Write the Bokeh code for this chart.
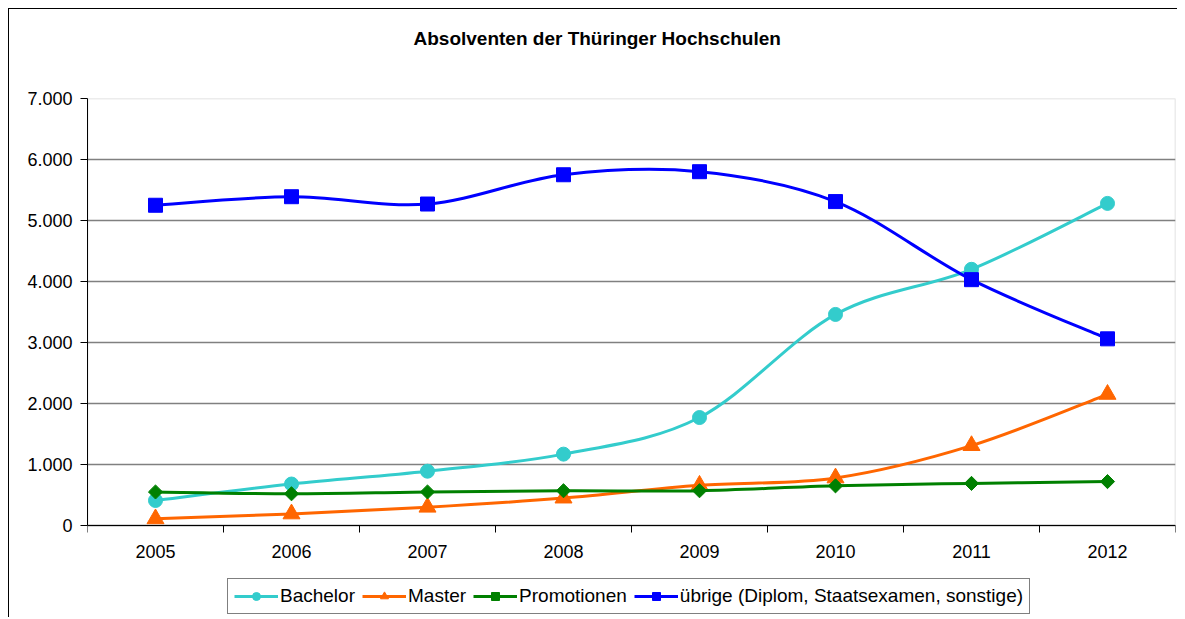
import numpy as np
from bokeh.plotting import figure
from bokeh.models import (Range1d, FixedTicker, Legend, LegendItem, ColumnDataSource, Title,
                          BoxAnnotation)
from bokeh.embed import file_html
from bokeh.resources import INLINE

# ---- data ----
years = ["2005", "2006", "2007", "2008", "2009", "2010", "2011", "2012"]
bachelor = [410, 680, 890, 1170, 1770, 3460, 4200, 5280]
master = [110, 190, 300, 450, 660, 780, 1310, 2150]
promotionen = [550, 520, 550, 570, 570, 650, 690, 720]
uebrige = [5250, 5390, 5270, 5750, 5800, 5310, 4030, 3060]

series_names = ["Bachelor", "Master", "Promotionen", "übrige (Diplom, Staatsexamen, sonstige)"]
series_vals = [bachelor, master, promotionen, uebrige]
colors = ["#33CCCC", "#FF6600", "#008000", "#0000FF"]
markers = ["circle", "triangle", "square", "square"]
msizes = [14, 17, 10, 14]
mangles = [0, 0, np.pi / 4, 0]

y_ticks = [0, 1000, 2000, 3000, 4000, 5000, 6000, 7000]
y_labels = ["0", "1.000", "2.000", "3.000", "4.000", "5.000", "6.000", "7.000"]

FONT = "Liberation Sans"

# plot area: 427 px for 0..7000, plus 90 px below the x axis for the legend
PLOT_H, EXTRA_H = 427, 90
y_top = 7000
y_bottom = -EXTRA_H * y_top / PLOT_H

p = figure(frame_width=1088, frame_height=PLOT_H + EXTRA_H, output_backend="svg",
           toolbar_location=None,
           x_range=Range1d(-0.5, len(years) - 0.5), y_range=Range1d(y_bottom, y_top),
           min_border_left=78, min_border_right=2, min_border_top=89, min_border_bottom=2,
           styles={"margin-left": "8px", "margin-top": "8px",
                   "border-left": "1px solid black", "border-top": "1px solid black"})

# spacer between frame and title (keeps the title high above the plot area)
p.add_layout(Title(text=" ", text_font=FONT, text_font_size="19px", standoff=22), "above")

p.title.text = "Absolventen der Thüringer Hochschulen"
p.title.text_font = FONT
p.title.text_font_size = "19px"
p.title.text_font_style = "bold"
p.title.text_color = "black"
p.title.align = "left"
p.title.offset = 326
p.title.standoff = 10

p.background_fill_color = "white"
p.border_fill_color = "white"
p.outline_line_color = None

# grey border of the value area (0..7000)
p.add_layout(BoxAnnotation(left=-0.5, right=len(years) - 0.5, bottom=0, top=y_top,
                           fill_alpha=0, line_color="#808080", line_width=1.5, level="underlay"))

# axes
xs = list(range(len(years)))
p.xaxis.fixed_location = 0
p.xaxis.ticker = FixedTicker(ticks=xs, minor_ticks=[i - 0.5 for i in range(len(years) + 1)])
p.xaxis.major_label_overrides = {i: y for i, y in enumerate(years)}
p.xaxis.major_tick_out = 0
p.xaxis.major_tick_in = 0
p.xaxis.minor_tick_out = 7
p.xaxis.minor_tick_in = 0
p.xaxis.minor_tick_line_color = "black"
p.xaxis.major_label_standoff = 12

p.yaxis.ticker = FixedTicker(ticks=y_ticks)
p.yaxis.bounds = (0, y_top)
p.yaxis.major_label_overrides = {t: l for t, l in zip(y_ticks, y_labels)}
p.yaxis.minor_tick_line_color = None
p.yaxis.major_tick_out = 7
p.yaxis.major_tick_in = 0
p.yaxis.major_label_standoff = 8

for ax in (p.xaxis, p.yaxis):
    ax.axis_line_color = "black"
    ax.major_label_text_font = FONT
    ax.major_label_text_font_size = "18px"
    ax.major_label_text_color = "black"
p.xaxis.major_tick_line_color = None
p.yaxis.major_tick_line_color = "black"

p.xgrid.grid_line_color = None
p.ygrid.ticker = FixedTicker(ticks=y_ticks)
p.ygrid.grid_line_color = "#808080"
p.ygrid.grid_line_width = 1.5

items = []
for name, vals, col, mk, ms, ang in zip(series_names, series_vals, colors, markers, msizes, mangles):
    v = np.array(vals, dtype=float)
    x = np.array(xs, dtype=float)
    n = len(v)
    # Catmull-Rom style smoothing (as in spreadsheet "smoothed line")
    xp = np.concatenate([[x[0]], x, [x[-1]]])
    yp = np.concatenate([[v[0]], v, [v[-1]]])
    x0, y0 = x[:-1], v[:-1]
    x1, y1 = x[1:], v[1:]
    cx0 = x0 + (xp[2:n + 1] - xp[0:n - 1]) / 6
    cy0 = y0 + (yp[2:n + 1] - yp[0:n - 1]) / 6
    cx1 = x1 - (xp[3:n + 2] - xp[1:n]) / 6
    cy1 = y1 - (yp[3:n + 2] - yp[1:n]) / 6
    src = ColumnDataSource(dict(x0=x0, y0=y0, x1=x1, y1=y1, cx0=cx0, cy0=cy0, cx1=cx1, cy1=cy1))
    p.bezier(x0="x0", y0="y0", x1="x1", y1="y1", cx0="cx0", cy0="cy0", cx1="cx1", cy1="cy1",
             source=src, line_color=col, line_width=3)
    p.scatter(x=x, y=v, marker=mk, size=ms, angle=ang, fill_color=col, line_color=col)
    # legend glyph renderers (first data point only; hidden under the big marker)
    lr = p.line(x=x[:1], y=v[:1], line_color=col, line_width=3)
    sl = p.scatter(x=x[:1], y=v[:1], marker=mk, size=ms * 0.7, angle=ang,
                   fill_color=col, line_color=col)
    items.append(LegendItem(label=name, renderers=[lr, sl]))

legend = Legend(items=items, orientation="horizontal", location=(140, 1),
                label_text_font=FONT, label_text_font_size="19px", label_text_color="black",
                glyph_width=44, glyph_height=20, label_standoff=2, spacing=7, padding=6, margin=0,
                border_line_color="black", border_line_width=1, background_fill_color="white",
                background_fill_alpha=1)
p.add_layout(legend, "center")

open("out.html", "w").write(file_html(p, INLINE))
